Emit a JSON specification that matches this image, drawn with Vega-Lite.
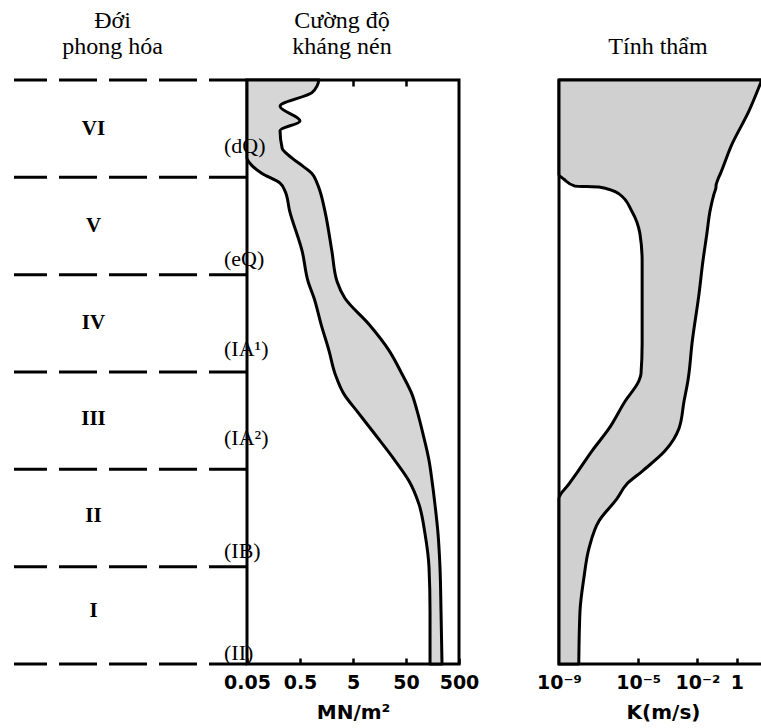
{
  "$schema": "https://vega.github.io/schema/vega-lite/v6.json",
  "padding": {"left": 12, "top": 7, "right": 0, "bottom": 0},
  "background": "white",
  "config": {
    "view": {"stroke": "black", "strokeWidth": 3},
    "title": {"font": "Liberation Serif", "fontSize": 24, "fontWeight": "normal", "color": "black", "lineHeight": 26, "offset": 20, "anchor": "middle"},
    "axis": {
      "labelFont": "DejaVu Sans", "labelFontWeight": "bold", "labelFontSize": 19, "labelColor": "black",
      "titleFont": "DejaVu Sans", "titleFontWeight": "bold", "titleFontSize": 20, "titleColor": "black",
      "domain": false, "grid": false, "tickColor": "black", "tickWidth": 2.5, "tickSize": 6, "offset": -6,
      "labelFlush": false, "labelOverlap": false, "labelPadding": 9
    }
  },
  "datasets": {
    "boundaries": [{"depth": 0}, {"depth": 1}, {"depth": 2}, {"depth": 3}, {"depth": 4}, {"depth": 5}, {"depth": 6}],
    "zones": [
      {"zone": "VI", "mid": 0.5},
      {"zone": "V", "mid": 1.5},
      {"zone": "IV", "mid": 2.5},
      {"zone": "III", "mid": 3.48},
      {"zone": "II", "mid": 4.48},
      {"zone": "I", "mid": 5.46}
    ],
    "codes": [
      {"code": "(dQ)", "depth": 0.68},
      {"code": "(eQ)", "depth": 1.84},
      {"code": "(IA¹)", "depth": 2.76},
      {"code": "(IA²)", "depth": 3.68},
      {"code": "(IB)", "depth": 4.84},
      {"code": "(II)", "depth": 5.89}
    ],
    "strength": [
      {"depth": 0, "lo": 0.05, "hi": 1.14},
      {"depth": 0.06, "lo": 0.05, "hi": 1.05},
      {"depth": 0.13, "lo": 0.05, "hi": 0.84},
      {"depth": 0.27, "lo": 0.05, "hi": 0.21},
      {"depth": 0.42, "lo": 0.05, "hi": 0.5},
      {"depth": 0.52, "lo": 0.05, "hi": 0.21},
      {"depth": 0.7, "lo": 0.05, "hi": 0.23},
      {"depth": 0.8, "lo": 0.05, "hi": 0.35},
      {"depth": 0.88, "lo": 0.062, "hi": 0.55},
      {"depth": 0.96, "lo": 0.096, "hi": 0.84},
      {"depth": 1.06, "lo": 0.21, "hi": 1.05},
      {"depth": 1.14, "lo": 0.26, "hi": 1.19},
      {"depth": 1.35, "lo": 0.32, "hi": 1.48},
      {"depth": 1.76, "lo": 0.55, "hi": 2.0},
      {"depth": 2.07, "lo": 0.71, "hi": 2.5},
      {"depth": 2.24, "lo": 0.92, "hi": 3.5},
      {"depth": 2.51, "lo": 1.25, "hi": 10},
      {"depth": 2.78, "lo": 1.76, "hi": 24},
      {"depth": 3.02, "lo": 2.3, "hi": 42},
      {"depth": 3.23, "lo": 3.4, "hi": 65},
      {"depth": 3.4, "lo": 5.9, "hi": 81},
      {"depth": 3.64, "lo": 13, "hi": 105},
      {"depth": 3.91, "lo": 31, "hi": 136},
      {"depth": 4.12, "lo": 57, "hi": 155},
      {"depth": 4.36, "lo": 88, "hi": 176},
      {"depth": 4.66, "lo": 114, "hi": 201},
      {"depth": 5.01, "lo": 136, "hi": 219},
      {"depth": 5.46, "lo": 142, "hi": 229},
      {"depth": 6, "lo": 142, "hi": 239}
    ],
    "perm": [
      {"depth": 0, "lo": 1e-9, "hi": 18},
      {"depth": 0.32, "lo": 1e-9, "hi": 4.0},
      {"depth": 0.66, "lo": 1e-9, "hi": 0.56},
      {"depth": 0.97, "lo": 1e-9, "hi": 0.14},
      {"depth": 1.02, "lo": 1.8e-9, "hi": 0.109},
      {"depth": 1.09, "lo": 6.4e-9, "hi": 0.087},
      {"depth": 1.1, "lo": 1.05e-7, "hi": 0.087},
      {"depth": 1.17, "lo": 1.08e-6, "hi": 0.069},
      {"depth": 1.35, "lo": 4.9e-6, "hi": 0.043},
      {"depth": 1.58, "lo": 1.24e-5, "hi": 0.03},
      {"depth": 1.86, "lo": 1.6e-5, "hi": 0.019},
      {"depth": 2.2, "lo": 1.6e-5, "hi": 0.012},
      {"depth": 2.71, "lo": 1.6e-5, "hi": 0.0053},
      {"depth": 3.02, "lo": 1.4e-5, "hi": 0.0037},
      {"depth": 3.09, "lo": 1.1e-5, "hi": 0.0033},
      {"depth": 3.3, "lo": 2.2e-6, "hi": 0.0021},
      {"depth": 3.58, "lo": 3.4e-7, "hi": 0.00117},
      {"depth": 3.81, "lo": 4.7e-8, "hi": 0.00023},
      {"depth": 4.02, "lo": 9.1e-9, "hi": 1.6e-5},
      {"depth": 4.15, "lo": 3.2e-9, "hi": 2.7e-6},
      {"depth": 4.3, "lo": 1e-9, "hi": 8.6e-7},
      {"depth": 4.53, "lo": 1e-9, "hi": 1.05e-7},
      {"depth": 4.81, "lo": 1e-9, "hi": 3.3e-8},
      {"depth": 5.12, "lo": 1e-9, "hi": 1.8e-8},
      {"depth": 5.46, "lo": 1e-9, "hi": 1.15e-8},
      {"depth": 6, "lo": 1e-9, "hi": 1.0e-8}
    ]
  },
  "spacing": 0,
  "bounds": "flush",
  "hconcat": [
    {
      "width": 233,
      "height": 584,
      "view": {"stroke": null},
      "title": {"text": ["Đới", "phong hóa"], "dx": -18},
      "layer": [
        {
          "data": {"name": "boundaries"},
          "mark": {"type": "rule", "strokeDash": [38, 12], "strokeWidth": 3, "color": "black"},
          "encoding": {
            "y": {"field": "depth", "type": "quantitative", "scale": {"domain": [0, 6], "reverse": true, "nice": false}, "axis": null}
          }
        },
        {
          "data": {"name": "zones"},
          "mark": {"type": "text", "font": "Liberation Serif", "fontWeight": "bold", "fontSize": 21, "dx": -37, "color": "black"},
          "encoding": {
            "y": {"field": "mid", "type": "quantitative"},
            "text": {"field": "zone"}
          }
        }
      ]
    },
    {
      "width": 212,
      "height": 584,
      "title": {"text": ["Cường độ", "kháng nén"], "dx": -11},
      "data": {"name": "strength"},
      "encoding": {
        "y": {"field": "depth", "type": "quantitative", "scale": {"domain": [0, 6], "reverse": true, "nice": false}, "axis": null}
      },
      "layer": [
        {
          "mark": {"type": "area", "orient": "horizontal", "interpolate": "monotone", "fill": "#d6d6d6", "stroke": "black", "strokeWidth": 3, "strokeJoin": "round"},
          "encoding": {
            "x": {"field": "lo", "type": "quantitative", "scale": {"type": "log", "domain": [0.05, 500], "nice": false},
                  "axis": {"orient": "bottom", "values": [0.05, 0.5, 5, 50, 500], "format": "~g", "title": "MN/m²", "titlePadding": 10}},
            "x2": {"field": "hi"}
          }
        },
        {
          "mark": {"type": "area", "orient": "horizontal", "opacity": 0},
          "encoding": {
            "x": {"field": "lo", "type": "quantitative", "axis": {"orient": "top", "values": [0.5, 5, 50], "labels": false, "title": null}},
            "x2": {"field": "hi"}
          }
        },
        {
          "data": {"name": "codes"},
          "mark": {"type": "text", "font": "Liberation Serif", "fontSize": 22, "align": "left", "dx": -23, "color": "black"},
          "encoding": {
            "x": {"datum": 0.05, "type": "quantitative", "axis": null},
            "text": {"field": "code"}
          }
        }
      ],
      "resolve": {"axis": {"x": "independent"}}
    },
    {
      "width": 100,
      "height": 584,
      "view": {"stroke": null},
      "data": {"values": []},
      "mark": "rule",
      "encoding": {}
    },
    {
      "width": 208,
      "height": 584,
      "title": {"text": "Tính thẩm", "dx": -5},
      "data": {"name": "perm"},
      "encoding": {
        "y": {"field": "depth", "type": "quantitative", "scale": {"domain": [0, 6], "reverse": true, "nice": false}, "axis": null}
      },
      "layer": [
        {
          "mark": {"type": "area", "orient": "horizontal", "interpolate": "monotone", "fill": "#d0d0d0", "stroke": "black", "strokeWidth": 3, "strokeJoin": "round"},
          "encoding": {
            "x": {"field": "lo", "type": "quantitative", "scale": {"type": "log", "domain": [1e-9, 33], "nice": false},
                  "axis": {"orient": "bottom", "values": [1e-9, 1e-5, 0.01, 1], "labelExpr": "datum.value >= 1 ? '1' : datum.value < 1e-8 ? '10⁻⁹' : datum.value < 1e-4 ? '10⁻⁵' : '10⁻²'", "title": "K(m/s)", "titlePadding": 10}},
            "x2": {"field": "hi"}
          }
        },
        {
          "mark": {"type": "area", "orient": "horizontal", "opacity": 0},
          "encoding": {
            "x": {"field": "lo", "type": "quantitative", "axis": {"orient": "top", "values": [1e-5, 0.01, 1], "labels": false, "title": null}},
            "x2": {"field": "hi"}
          }
        }
      ],
      "resolve": {"axis": {"x": "independent"}}
    }
  ]
}
